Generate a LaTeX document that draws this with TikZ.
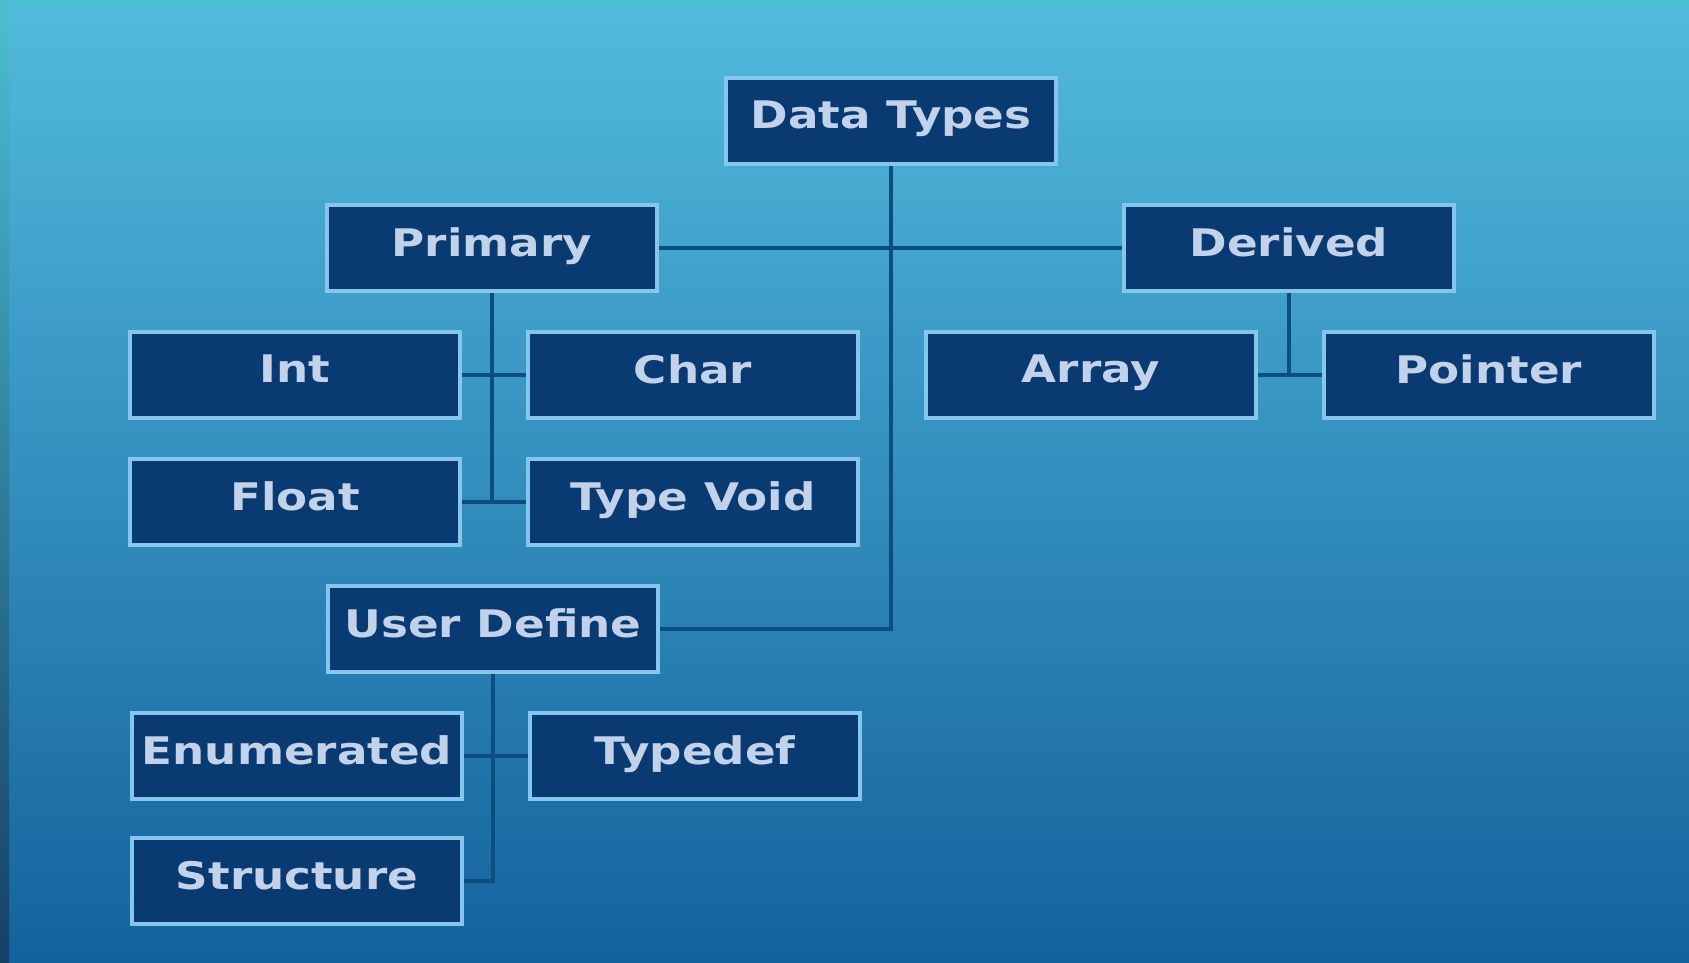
\documentclass[tikz,border=0pt]{standalone}
\usepackage{fontspec}
\setmainfont{DejaVu Sans}
\definecolor{bgtop}{HTML}{52BBDD}
\definecolor{bgbot}{HTML}{14629D}
\definecolor{striptop}{HTML}{4ABFD0}
\definecolor{stripbot}{HTML}{163F68}
\definecolor{boxfill}{HTML}{0A3A72}
\definecolor{boxedge}{HTML}{86C6EC}
\definecolor{txt}{HTML}{C2D2EA}
\definecolor{linec}{HTML}{0D4E80}
\newcommand{\lbl}[1]{\raisebox{12pt}{\scalebox{1.19}[1]{#1}}}
\begin{document}
\begin{tikzpicture}[x=1pt,y=-1pt,
  box/.style={draw=boxedge, line width=4pt, fill=boxfill, minimum width=330pt,
    minimum height=86pt, inner sep=0pt, text=txt, font=\fontsize{38}{40}\selectfont\bfseries},
  conn/.style={draw=linec, line width=3.5pt}]
\useasboundingbox (0,0) rectangle (1689,962);
\shade[top color=bgtop, bottom color=bgbot] (0,0) rectangle (1689,962);
\shade[top color=striptop, bottom color=stripbot] (0,0) rectangle (9,962);
\fill[striptop!80!bgtop] (9,0) rectangle (1689,7);
% nodes
\node[box] (dt)  at (891,121) {\lbl{Data Types}};
\node[box] (pri) at (492,248) {\lbl{Primary}};
\node[box] (der) at (1289,248) {\lbl{Derived}};
\node[box] (int) at (295,375) {\lbl{Int}};
\node[box] (chr) at (693,375) {\lbl{Char}};
\node[box] (arr) at (1091,375) {\lbl{Array}};
\node[box] (ptr) at (1489,375) {\lbl{Pointer}};
\node[box] (flt) at (295,502) {\lbl{Float}};
\node[box] (tv)  at (693,502) {\lbl{Type Void}};
\node[box] (ud)  at (493,629) {\lbl{User Define}};
\node[box] (en)  at (297,756) {\lbl{Enumerated}};
\node[box] (td)  at (695,756) {\lbl{Typedef}};
\node[box] (st)  at (297,881) {\lbl{Structure}};
% connectors
\draw[conn] (dt.south) |- (ud.east);
\draw[conn] (pri.east) -- (der.west);
\draw[conn] (pri.south) |- (flt.east);
\draw[conn] (int.east) -- (chr.west);
\draw[conn] (flt.east) -- (tv.west);
\draw[conn] (der.south) |- (arr.east);
\draw[conn] (arr.east) -- (ptr.west);
\draw[conn] (ud.south) |- (st.east);
\draw[conn] (en.east) -- (td.west);
\end{tikzpicture}
\end{document}
